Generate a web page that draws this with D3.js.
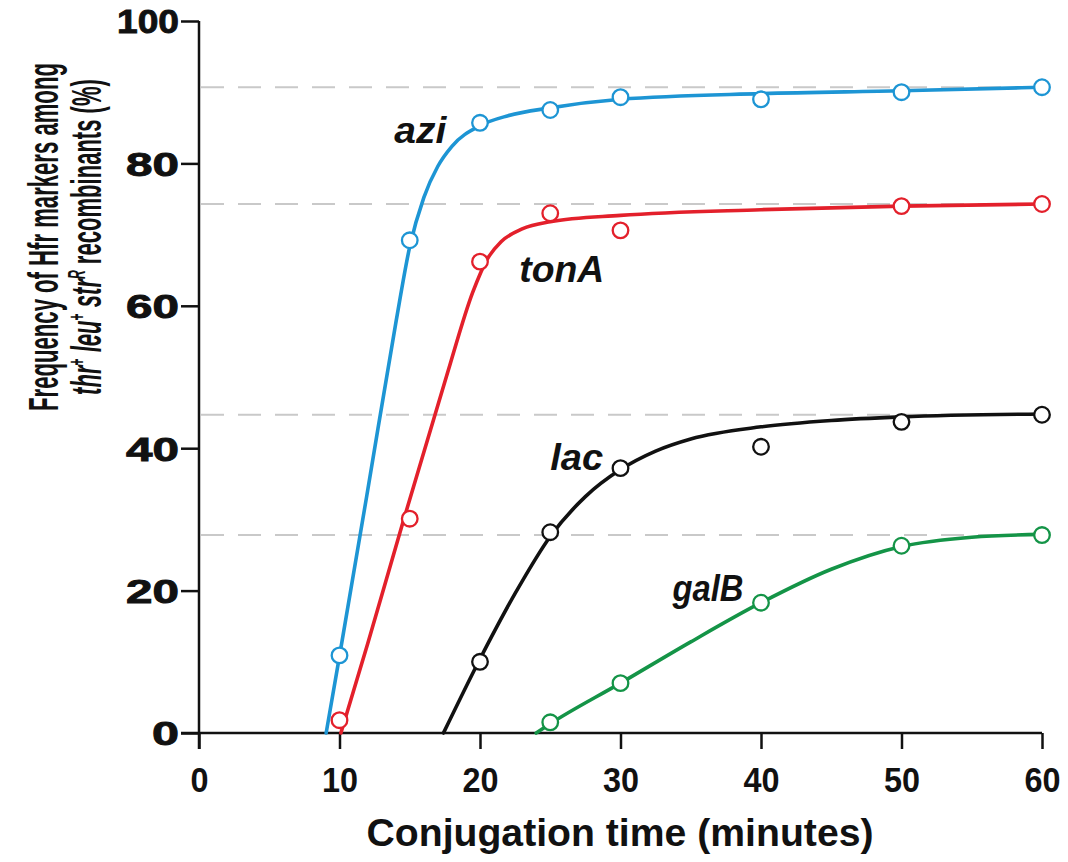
<!DOCTYPE html>
<html>
<head>
<meta charset="utf-8">
<script src="https://cdn.jsdelivr.net/npm/d3@7"></script>
<style>
  html, body { margin: 0; padding: 0; background: #fff; }
  svg { display: block; }
  text { font-family: "Liberation Sans", Arial, Helvetica, sans-serif; font-weight: bold; fill: #111; }
</style>
</head>
<body>
<svg id="chart" width="1068" height="862"></svg>
<script>
// ---------- data ----------
const xTicks = [0, 10, 20, 30, 40, 50, 60];
const yTicks = [0, 20, 40, 60, 80, 100];

const seriesNames = ["azi", "tonA", "lac", "galB"];
const seriesColors = ["#1d95d4", "#e3202b", "#111111", "#149447"];

// observed data points (minutes, %)
const aziPoints  = [[10, 10.9], [15, 69.2], [20, 85.7], [25, 87.5], [30, 89.3], [40, 89.0], [50, 90.0], [60, 90.7]];
const tonAPoints = [[10, 1.8], [15, 30.1], [20, 66.2], [25, 73.0], [30, 70.6], [50, 74.0], [60, 74.3]];
const lacPoints  = [[20, 10.0], [25, 28.2], [30, 37.2], [40, 40.2], [50, 43.7], [60, 44.7]];
const galBPoints = [[25, 1.5], [30, 7.0], [40, 18.3], [50, 26.3], [60, 27.8]];

// fitted curves
const aziCurve  = [[9.05, 0], [10, 10.8], [12, 34], [14, 57.5], [15, 68.3], [16, 75.2], [17, 79.6], [18, 82.4], [20, 85.3], [22, 86.7], [25, 87.8], [30, 89.0], [40, 89.8], [50, 90.2], [60, 90.7]];
const tonACurve = [[10.1, 0], [12, 12.5], [14.5, 29.5], [17.6, 50], [19.5, 62], [20.5, 66.5], [21.5, 69], [23, 70.8], [25, 71.8], [30, 72.7], [40, 73.5], [50, 74.0], [60, 74.3]];
const lacCurve  = [[17.4, 0], [20, 10.4], [22.5, 19.6], [25, 27.6], [27.5, 33.2], [30, 37.0], [32.5, 39.6], [35, 41.3], [40, 43.0], [45, 43.9], [50, 44.4], [60, 44.8]];
const galBCurve = [[24.0, 0], [25, 1.3], [30, 7.0], [35, 12.8], [40, 18.3], [45, 23.0], [50, 26.2], [55, 27.5], [60, 27.9]];

const plateaus = [90.7, 74.3, 44.7, 27.8];

const xTitle = "Conjugation time (minutes)";
const yTitle1 = "Frequency of Hfr markers among";

// ---------- drawing ----------
const svg = d3.select("#chart");
const x = d3.scaleLinear().domain([0, 60]).range([199, 1042]);
const y = d3.scaleLinear().domain([0, 100]).range([733, 21]);

const pointSets = [aziPoints, tonAPoints, lacPoints, galBPoints];
const curveSets = [aziCurve, tonACurve, lacCurve, galBCurve];

// fit a text element to a given width by horizontal scaling (keeps bbox honest)
function fitWidth(sel, cx, baseY, width) {
  const w = sel.node().getComputedTextLength();
  const s = width / w;
  sel.attr("x", 0).attr("y", 0)
     .attr("transform", `translate(${cx},${baseY}) scale(${s},1)`);
}

// dashed plateau lines
svg.append("g").selectAll("line").data(plateaus).join("line")
  .attr("x1", x(0) + 2).attr("x2", x(60))
  .attr("y1", d => y(d)).attr("y2", d => y(d))
  .attr("stroke", "#c9c9c9").attr("stroke-width", 2)
  .attr("stroke-dasharray", "23,14");

// axes
const xAxis = svg.append("g").attr("transform", `translate(0,${y(0)})`)
  .call(d3.axisBottom(x).tickValues(xTicks).tickSize(16).tickSizeOuter(0).tickPadding(18));
const yAxis = svg.append("g").attr("transform", `translate(${x(0)},0)`)
  .call(d3.axisLeft(y).tickValues(yTicks).tickSize(18).tickSizeOuter(0).tickPadding(2));

[xAxis, yAxis].forEach(g => {
  g.select(".domain").attr("stroke", "#111").attr("stroke-width", 2.5);
  g.selectAll(".tick line").attr("stroke", "#111").attr("stroke-width", 2.5);
});
// extend axis lines to cross each other
xAxis.select(".domain").attr("d", `M${x(0) - 18},0H${x(60)}`);
yAxis.select(".domain").attr("d", `M0,${y(100)}V${y(0) + 16}`);

xAxis.selectAll(".tick text")
  .attr("font-size", 35).attr("fill", "#111")
  .attr("font-family", "Liberation Sans, Arial, sans-serif").attr("font-weight", "bold")
  .attr("dy", "0.71em")
  .attr("textLength", d => String(d).length * 18).attr("lengthAdjust", "spacingAndGlyphs");

yAxis.selectAll(".tick text")
  .attr("font-size", 33).attr("fill", "#111")
  .attr("stroke", "#111").attr("stroke-width", 0.9)
  .attr("font-family", "Liberation Sans, Arial, sans-serif").attr("font-weight", "bold")
  .attr("x", -20)
  .attr("dy", "0.36em")
  .attr("textLength", d => d === 100 ? 62 : (d === 0 ? 27 : 53)).attr("lengthAdjust", "spacingAndGlyphs");

// curves
const line = d3.line().x(d => x(d[0])).y(d => y(d[1])).curve(d3.curveMonotoneX);
svg.append("g").selectAll("path").data(curveSets).join("path")
  .attr("d", d => line(d))
  .attr("fill", "none")
  .attr("stroke", (d, i) => seriesColors[i])
  .attr("stroke-width", 3.6)
  .attr("stroke-linecap", "round");

// points
pointSets.forEach((pts, i) => {
  svg.append("g").selectAll("circle").data(pts).join("circle")
    .attr("cx", d => x(d[0])).attr("cy", d => y(d[1]))
    .attr("r", 7.8)
    .attr("fill", "#fff")
    .attr("stroke", seriesColors[i])
    .attr("stroke-width", 2.3);
});

// series labels
const labelPos = [[13.9, 82.9], [22.8, 63.3], [25.0, 37.0], [33.7, 18.5]];
svg.append("g").selectAll("text").data(seriesNames).join("text")
  .attr("x", (d, i) => x(labelPos[i][0]))
  .attr("y", (d, i) => y(labelPos[i][1]))
  .attr("font-size", 36).attr("font-style", "italic").attr("font-weight", "bold")
  .attr("fill", "#111")
  .attr("textLength", (d, i) => [52, 85, 53, 71][i]).attr("lengthAdjust", "spacingAndGlyphs")
  .text(d => d);

// x axis title
svg.append("text")
  .attr("x", 620).attr("y", 846)
  .attr("text-anchor", "middle")
  .attr("font-size", 38)
  .attr("textLength", 507).attr("lengthAdjust", "spacingAndGlyphs")
  .text(xTitle);

// y axis title (two lines, rotated)
const yt = svg.append("g").attr("transform", "translate(0,237) rotate(-90)");
const l1 = yt.append("text")
  .attr("text-anchor", "middle")
  .attr("font-size", 42)
  .text(yTitle1);
fitWidth(l1, 0, 58, 348);

const l2 = yt.append("text")
  .attr("text-anchor", "middle")
  .attr("font-size", 42);
l2.append("tspan").attr("font-style", "italic").text("thr");
l2.append("tspan").attr("font-size", 23).attr("dy", -16).text("+");
l2.append("tspan").attr("dy", 16).text(" ");
l2.append("tspan").attr("font-style", "italic").text("leu");
l2.append("tspan").attr("font-size", 23).attr("dy", -16).text("+");
l2.append("tspan").attr("dy", 16).text(" ");
l2.append("tspan").attr("font-style", "italic").text("str");
l2.append("tspan").attr("font-size", 23).attr("font-style", "italic").attr("dy", -16).text("R");
l2.append("tspan").attr("dy", 16).text(" recombinants (%)");
fitWidth(l2, 0, 101, 316);
</script>
</body>
</html>
